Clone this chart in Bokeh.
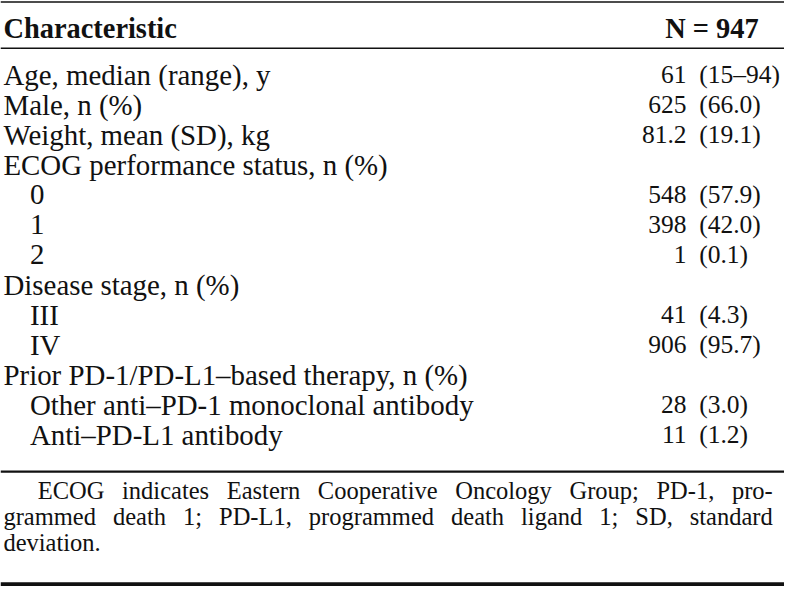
from bokeh.plotting import figure
from bokeh.models import Range1d, ColumnDataSource
from bokeh.core.properties import value
from bokeh.embed import file_html
from bokeh.resources import INLINE

# ---------------- data ----------------
header_left = "Characteristic"
header_right = "N = 947"
labels = [
    "Age, median (range), y",
    "Male, n (%)",
    "Weight, mean (SD), kg",
    "ECOG performance status, n (%)",
    "0",
    "1",
    "2",
    "Disease stage, n (%)",
    "III",
    "IV",
    "Prior PD-1/PD-L1\u2013based therapy, n (%)",
    "Other anti\u2013PD-1 monoclonal antibody",
    "Anti\u2013PD-L1 antibody",
]
indent = [0, 0, 0, 0, 1, 1, 1, 0, 1, 1, 0, 1, 1]
counts = ["61", "625", "81.2", "", "548", "398", "1", "", "41", "906", "", "28", "11"]
pcts = ["(15\u201394)", "(66.0)", "(19.1)", "", "(57.9)", "(42.0)", "(0.1)", "",
        "(4.3)", "(95.7)", "", "(3.0)", "(1.2)"]
footnote_lines = [
    ["ECOG", "indicates", "Eastern", "Cooperative", "Oncology", "Group;", "PD-1,", "pro-"],
    ["grammed", "death", "1;", "PD-L1,", "programmed", "death", "ligand", "1;", "SD,", "standard"],
    ["deviation."],
]

# ---------------- layout ----------------
FONT = "Liberation Serif"
W, H = 784, 588
REF_W, REF_H = 800, 604
S = W / REF_W
LABEL_FS = 29.5
HEAD_FS = 29.0
NUM_FS = 26.0
NOTE_FS = 25.0
INK = "#111111"

row_y0, row_dy = 76.5, 30.8
label_x, indent_dx = 3, 27
count_x, pct_x = 700, 713

# Times (Liberation Serif) advance widths /1000 em, for justified footnote
TW = {'a': 444, 'c': 444, 'd': 500, 'e': 444, 'g': 500, 'h': 500, 'i': 278, 'l': 278,
      'm': 778, 'n': 500, 'o': 500, 'p': 500, 'r': 333, 's': 389, 't': 278, 'u': 500,
      'v': 500, 'y': 500, 'C': 667, 'D': 722, 'E': 611, 'G': 722, 'L': 611, 'O': 722,
      'P': 556, 'S': 556, '-': 333, '1': 500, ',': 250, ';': 278, '.': 250}


def word_w(w, fs):
    return sum(TW.get(ch, 500) for ch in w) * fs / 1000.0


def px(fs):
    return f"{fs * S:.1f}px"


p = figure(width=W, height=H, x_range=Range1d(0, REF_W), y_range=Range1d(REF_H, 0),
           x_axis_type=None, y_axis_type=None, output_backend="svg",
           toolbar_location=None, min_border=0)
p.grid.visible = False
p.outline_line_color = None
p.background_fill_color = "white"
p.border_fill_color = "white"

# rules
rules_y = [1.5, 49, 484, 599.5]
rules_w = [1.6, 1.6, 2.2, 3.6]
p.segment(x0=[0] * 4, x1=[REF_W] * 4, y0=rules_y, y1=rules_y,
          line_color=INK, line_width=[w * S for w in rules_w])

# header
p.text(x=[label_x], y=[29], text=[header_left], text_font=value(FONT),
       text_font_size=px(HEAD_FS), text_font_style="bold", text_baseline="middle",
       text_align="left", text_color=INK)
p.text(x=[726], y=[29], text=[header_right], text_font=value(FONT),
       text_font_size=px(HEAD_FS), text_font_style="bold", text_baseline="middle",
       text_align="center", text_color=INK)

ys = [row_y0 + i * row_dy for i in range(len(labels))]
src = ColumnDataSource(dict(
    x=[label_x + indent_dx * k for k in indent], y=ys, label=labels,
    count=counts, pct=pcts,
))
p.text(x="x", y="y", text="label", source=src, text_font=value(FONT),
       text_font_size=px(LABEL_FS), text_baseline="middle", text_align="left", text_color=INK)
p.text(x=count_x, y="y", text="count", source=src, text_font=value(FONT),
       text_font_size=px(NUM_FS), text_baseline="middle", text_align="right", text_color=INK)
p.text(x=pct_x, y="y", text="pct", source=src, text_font=value(FONT),
       text_font_size=px(NUM_FS), text_baseline="middle", text_align="left", text_color=INK)

# footnote (justified)
note_y = [503, 530.5, 557]
note_x0 = [38, 3, 3]
note_x1 = [788, 788, None]
fx, fy, ft = [], [], []
for words, y, x0, x1 in zip(footnote_lines, note_y, note_x0, note_x1):
    widths = [word_w(w, NOTE_FS) for w in words]
    if x1 is None or len(words) == 1:
        gap = 0.25 * NOTE_FS
    else:
        gap = (x1 - x0 - sum(widths)) / (len(words) - 1)
    x = x0
    for w, wd in zip(words, widths):
        fx.append(x); fy.append(y); ft.append(w)
        x += wd + gap
p.text(x=fx, y=fy, text=ft, text_font=value(FONT), text_font_size=px(NOTE_FS),
       text_baseline="middle", text_align="left", text_color=INK)

open("out.html", "w").write(file_html(p, INLINE))
